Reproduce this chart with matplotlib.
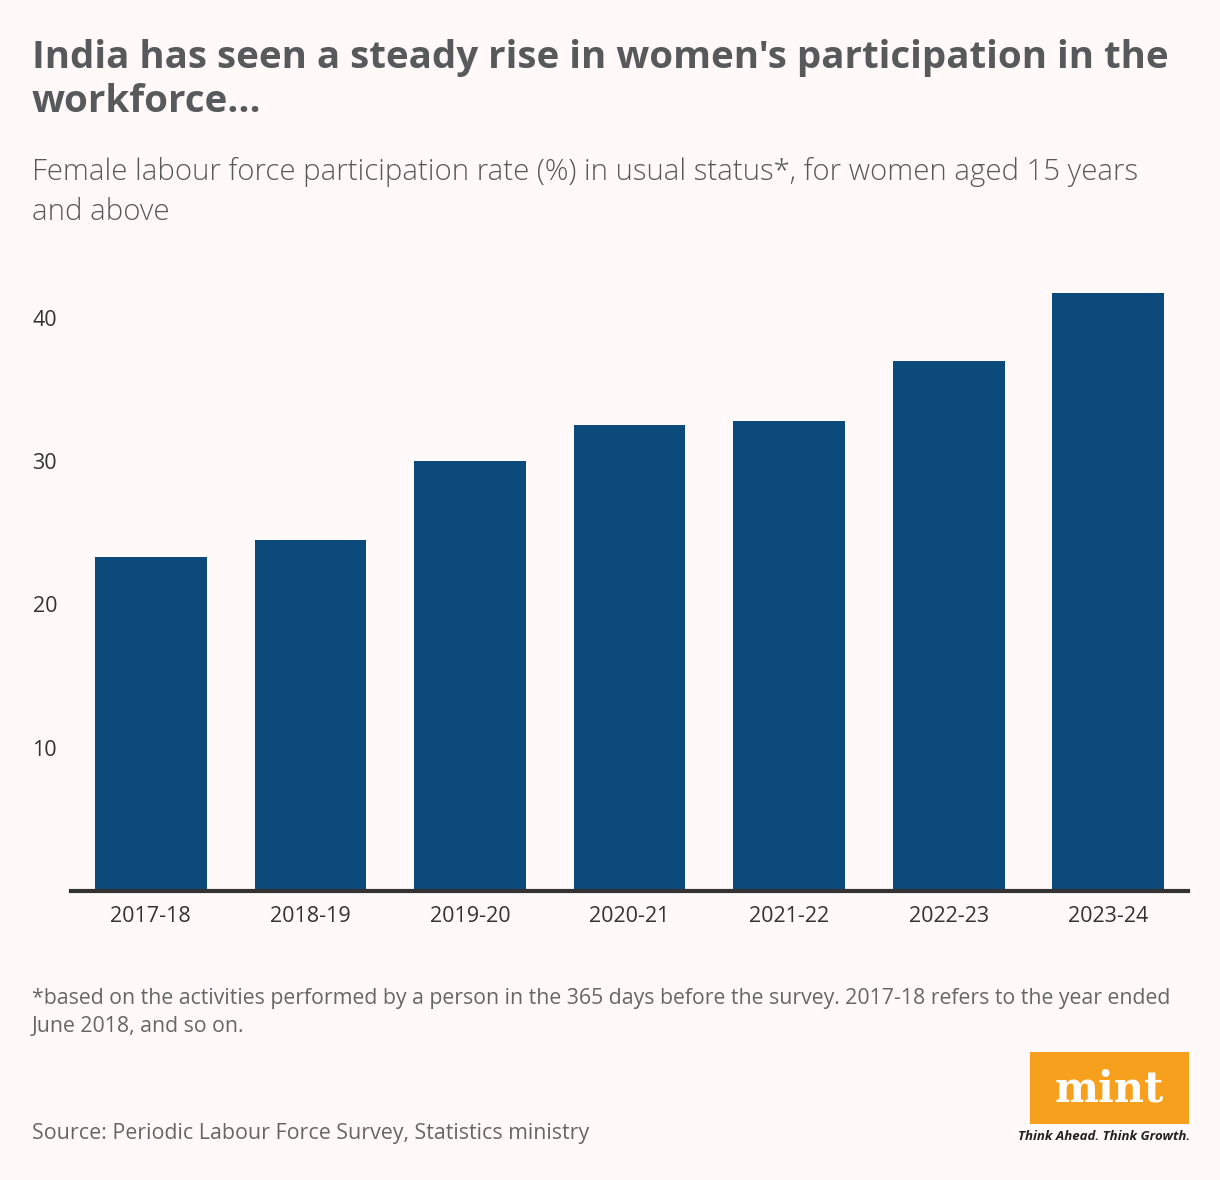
import matplotlib.pyplot as plt
from matplotlib.patches import Rectangle

years = ["2017-18", "2018-19", "2019-20", "2020-21", "2021-22", "2022-23", "2023-24"]
flfpr = [23.3, 24.5, 30.0, 32.5, 32.8, 37.0, 41.7]
yticks = [10, 20, 30, 40]

bg = "#FFF9F9"
bar_col = "#0B4A7A"
txt = "#58595B"

plt.rcParams["font.family"] = ["Open Sans", "DejaVu Sans"]

fig = plt.figure(figsize=(12.2, 11.8), dpi=100, facecolor=bg)
ax = fig.add_axes([0.0582, 0.2449, 0.9156, 0.5101])
ax.set_facecolor(bg)

x = range(len(years))
ax.bar(x, flfpr, width=0.7, color=bar_col, zorder=2)

ax.set_xlim(-0.5, len(years) - 0.5)
ax.set_ylim(0, 42)
ax.set_xticks(list(x))
ax.set_xticklabels(years, fontsize=15.5, color="#333333")
ax.set_yticks(yticks)
ax.set_yticklabels([str(v) for v in yticks], fontsize=15.5, color="#333333")
ax.tick_params(axis="both", length=0)
ax.tick_params(axis="x", pad=11)
ax.tick_params(axis="y", pad=10)

for s in ["top", "right", "left"]:
    ax.spines[s].set_visible(False)
ax.spines["bottom"].set_linewidth(3)
ax.spines["bottom"].set_color("#333333")

# titles
fig.text(0.026, 0.967, "India has seen a steady rise in women's participation in the\nworkforce...",
         fontsize=27.7, fontweight="bold", color=txt, va="top", ha="left", linespacing=1.22)
fig.text(0.026, 0.867, "Female labour force participation rate (%) in usual status*, for women aged 15 years\nand above",
         fontsize=21.2, fontweight="light", color=txt, va="top", ha="left", linespacing=1.45)

# notes
fig.text(0.026, 0.163, "*based on the activities performed by a person in the 365 days before the survey. 2017-18 refers to the year ended\nJune 2018, and so on.",
         fontsize=15.3, color="#666666", va="top", ha="left", linespacing=1.45)
fig.text(0.026, 0.039, "Source: Periodic Labour Force Survey, Statistics ministry",
         fontsize=15.4, color="#666666", va="center", ha="left")

# mint logo
lax = fig.add_axes([1030 / 1220, 1 - 1124 / 1180, 159 / 1220, 72 / 1180])
lax.set_xlim(0, 1)
lax.set_ylim(0, 1)
lax.axis("off")
lax.add_patch(Rectangle((0, 0), 1, 1, color="#F7A01E"))
lax.text(0.5, 0.48, "mint", fontsize=30, fontweight="bold", family=["DejaVu Serif"],
         color="white", ha="center", va="center")
fig.text(1190 / 1220, 1 - 1137 / 1180, "Think Ahead. Think Growth.", fontsize=9.5,
         fontstyle="italic", fontweight="bold", color="#222222", ha="right", va="center")

fig.savefig("out.png", dpi=100, facecolor=bg)
